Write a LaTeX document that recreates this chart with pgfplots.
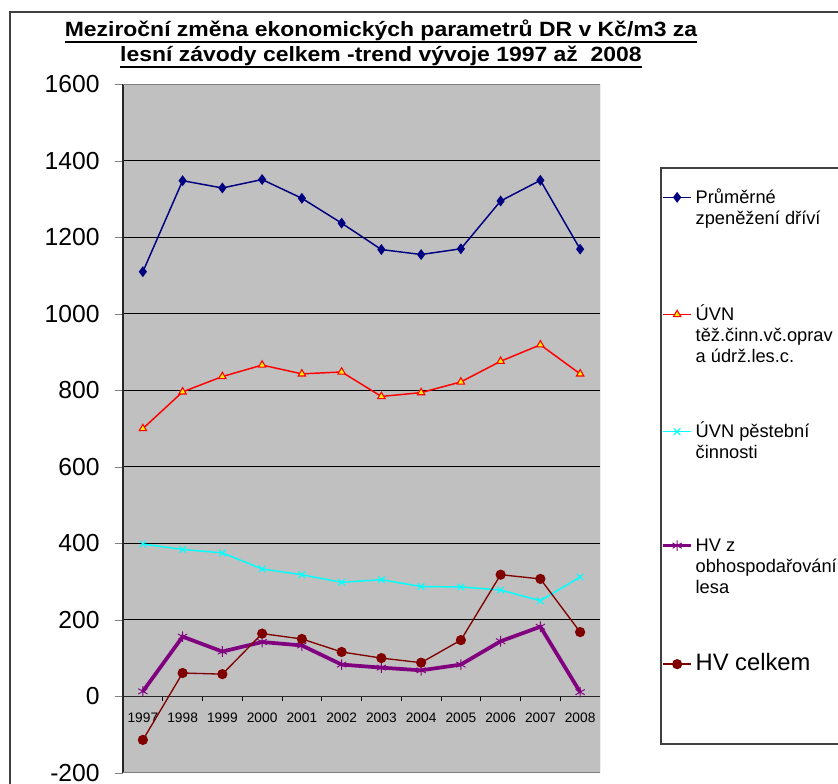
\documentclass[border=0pt]{standalone}
\usepackage{fontspec}
\setmainfont{Liberation Sans}
\newfontfamily\titlefont{Liberation Sans}[FakeStretch=1.11]
\usepackage{pgfplots}
\pgfplotsset{compat=1.18}

\definecolor{plotgray}{HTML}{C0C0C0}
\definecolor{navyblue}{HTML}{000080}
\definecolor{aqua}{HTML}{00FFFF}
\definecolor{hvpurple}{HTML}{800080}
\definecolor{hvdark}{HTML}{800000}

% legend text, top aligned so the sample sits on the first line
\newcommand{\legtext}[1]{\parbox[t]{115pt}{\raggedright\fontsize{13.7}{15.75}\selectfont #1}}

\begin{document}
\begin{tikzpicture}
% page = 838 x 784 px, 1 px = 0.75 pt
\useasboundingbox (0,0) rectangle (628.5pt,-588pt);
\draw[line width=0.9pt,black!75] (7.5pt,-9pt) rectangle (700pt,-700pt);
% legend frame
\draw[line width=0.9pt,black!75,fill=white] (495.75pt,-126pt) rectangle (700pt,-558pt);

\node[anchor=base,inner sep=0pt,font=\fontsize{15.5}{18}\selectfont\titlefont\bfseries] (t1) at (285.75pt,-27.75pt)
  {Meziroční změna ekonomických parametrů DR v Kč/m3 za};
\node[anchor=base,inner sep=0pt,font=\fontsize{15.5}{18}\selectfont\titlefont\bfseries] (t2) at (285.75pt,-46.5pt)
  {lesní závody celkem -trend vývoje 1997 až\ \ 2008};
\draw[line width=1.3pt] ([yshift=-3.6pt]t1.base west) -- ([yshift=-3.6pt]t1.base east);
\draw[line width=1.3pt] ([yshift=-3.6pt]t2.base west) -- ([yshift=-3.6pt]t2.base east);

\begin{axis}[
  at={(92.25pt,-63.225pt)}, anchor=north west,
  width=357.75pt, height=516.4pt, scale only axis,
  xmin=-0.5, xmax=11.5, ymin=-200, ymax=1600,
  axis x line*=middle, axis y line*=left,
  axis line style={black!85, line width=0.9pt},
  axis background/.style={fill=plotgray},
  xtick={0,...,11},
  xticklabels={1997,1998,1999,2000,2001,2002,2003,2004,2005,2006,2007,2008},
  minor x tick num=1,
  major x tick style={draw=none},
  minor x tick style={black, line width=0.75pt},
  minor tick length=3.5pt,
  ytick={-200,0,...,1600},
  major tick length=6pt,
  tick align=outside,
  ymajorgrids, grid style={black, line width=0.75pt},
  hide obscured x ticks=false, hide obscured y ticks=false,
  /pgf/number format/assume math mode=true,
  /pgf/number format/1000 sep={},
  yticklabel style={font=\fontsize{18.5}{20}\selectfont, xshift=-8pt},
  xticklabel style={font=\fontsize{10.3}{12}\selectfont, yshift=-3pt},
  legend image code/.code={\draw[mark repeat=2,mark phase=2,#1] plot coordinates {(0pt,4.5pt)(10.5pt,4.5pt)(21pt,4.5pt)};},
  legend cell align=left,
  legend style={at={(axis description cs:1.1195,0.8566)}, anchor=north west,
    draw=none, fill=none,
    inner xsep=3pt, inner ysep=4pt, row sep=74.5pt, column sep=2pt,
    cells={anchor=base west}, nodes={inner sep=0pt}},
]
\addplot[navyblue, line width=1.1pt, mark=diamond*, mark size=3.2pt, mark options={fill=navyblue}]
  coordinates {(0,1110)(1,1348)(2,1329)(3,1351)(4,1302)(5,1237)(6,1168)(7,1155)(8,1170)(9,1295)(10,1349)(11,1169)};
\addlegendentry{\legtext{Průměrné\\zpeněžení dříví}}
\addplot[red, line width=1.1pt, mark=triangle*, mark size=3.2pt, mark options={fill=yellow, draw=red, line width=0.8pt}]
  coordinates {(0,700)(1,796)(2,836)(3,866)(4,843)(5,848)(6,784)(7,794)(8,822)(9,876)(10,919)(11,843)};
\addlegendentry{\legtext{ÚVN\\těž.činn.vč.oprav\\a údrž.les.c.}}
\addplot[aqua, line width=1.1pt, mark=x, mark size=3.5pt, mark options={line width=0.8pt}]
  coordinates {(0,398)(1,384)(2,375)(3,333)(4,318)(5,298)(6,305)(7,287)(8,286)(9,278)(10,250)(11,312)};
\addlegendentry{\legtext{ÚVN pěstební\\činnosti}}
\addplot[hvpurple, line width=2.8pt, mark=asterisk, mark size=4pt, mark options={line width=0.7pt}]
  coordinates {(0,13)(1,156)(2,117)(3,142)(4,133)(5,83)(6,75)(7,68)(8,83)(9,144)(10,182)(11,11)};
\addlegendentry{\legtext{HV z\\obhospodařování\\lesa}}
\addplot[hvdark, line width=1pt, mark=*, mark size=3.3pt, mark options={fill=hvdark}]
  coordinates {(0,-114)(1,61)(2,58)(3,164)(4,150)(5,116)(6,100)(7,88)(8,147)(9,318)(10,307)(11,168)};
\addlegendentry{\parbox[t]{115pt}{\fontsize{17.8}{20}\selectfont HV celkem}}
\draw[gray, line width=0.75pt] (rel axis cs:0,0) -- (rel axis cs:1,0) -- (rel axis cs:1,1) -- (rel axis cs:0,1);
\end{axis}
\end{tikzpicture}
\end{document}
